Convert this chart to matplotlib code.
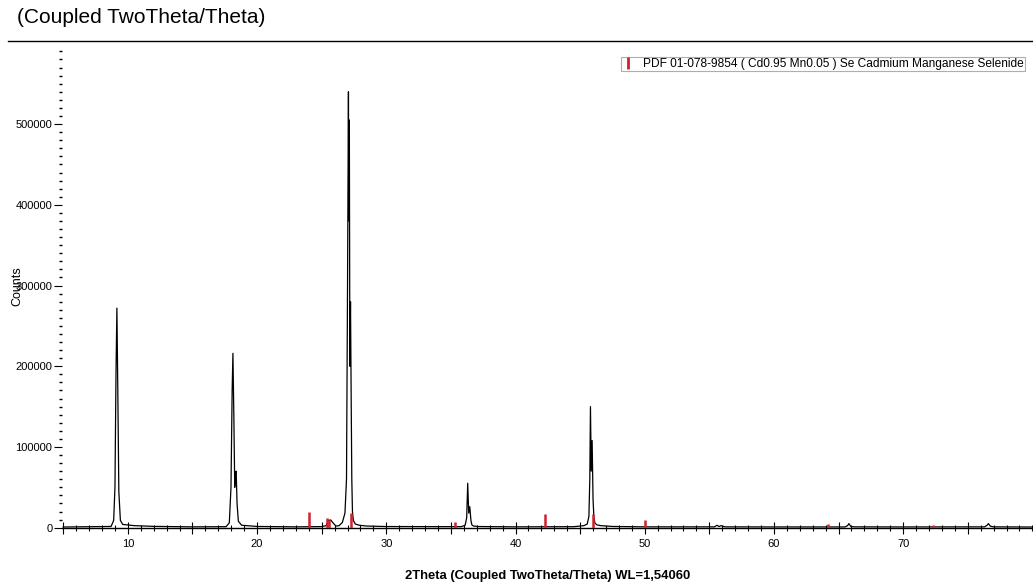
import matplotlib
matplotlib.use("Agg")
import matplotlib.pyplot as plt
from matplotlib.lines import Line2D
from matplotlib.ticker import MultipleLocator, FixedLocator

plt.rcParams['font.family'] = ['Liberation Sans', 'DejaVu Sans']

# measured pattern (2theta in degrees, counts)
two_theta = [5.0, 8.7, 8.9, 9.0, 9.08, 9.15, 9.22, 9.3, 9.42, 9.6, 10.5, 12.0, 15.0,
             17.6, 17.85, 17.98, 18.07, 18.13, 18.2, 18.27, 18.33, 18.38, 18.45, 18.55, 18.8, 20.0, 23.0, 25.0,
             25.35, 25.5, 25.7, 25.9, 26.1, 26.35, 26.6, 26.8, 26.92, 27.0, 27.07, 27.1, 27.14, 27.18,
             27.23, 27.28, 27.33, 27.38, 27.45, 27.6, 27.9, 28.5, 30.0,
             35.8, 36.1, 36.22, 36.3, 36.38, 36.46, 36.55, 36.62, 36.75, 37.2, 40.0,
             44.5, 45.3, 45.55, 45.68, 45.75, 45.8, 45.86, 45.93, 46.0, 46.07, 46.15, 46.3, 46.6, 47.5, 50.0,
             55.4, 55.6, 55.75, 55.9, 56.2, 60.0,
             65.5, 65.7, 65.8, 65.95, 66.2, 70.0,
             76.3, 76.5, 76.6, 76.75, 77.0, 80.0]
counts = [800, 1500, 9000, 50000, 190000, 272000, 170000, 45000, 9000, 4000, 2500, 1600, 1000,
          1200, 6000, 50000, 170000, 216000, 140000, 50000, 68000, 70000, 30000, 8000, 3000, 1500, 1000, 1300,
          2500, 9000, 9500, 5500, 2000, 2500, 6500, 18000, 60000, 300000, 540000, 380000, 505000, 200000,
          280000, 165000, 60000, 20000, 9000, 4500, 3000, 2000, 1400,
          1200, 3000, 12000, 55000, 18000, 26000, 9000, 3500, 2000, 1400, 1000,
          1200, 2500, 4500, 14000, 60000, 150000, 70000, 108000, 35000, 12000, 5500, 3500, 2500, 1500, 1000,
          1000, 3000, 1400, 2500, 1000, 900,
          900, 2500, 5000, 1500, 1000, 900,
          1000, 3000, 5000, 1800, 1000, 800]

# PDF 01-078-9854 reference lines
ref_pos = [24.0, 25.4, 25.6, 27.3, 35.3, 42.3, 46.0, 50.0, 64.2, 72.3]
ref_int = [20000, 12000, 9000, 18000, 7000, 17000, 17000, 10000, 5000, 3000]

y_ticks = [0, 100000, 200000, 300000, 400000, 500000]
x_ticks = list(range(5, 80, 5))

ref_label = "PDF 01-078-9854 ( Cd0.95 Mn0.05 ) Se Cadmium Manganese Selenide"
red = '#d3202e'

fig = plt.figure(figsize=(10.33, 5.86), dpi=100)
ax = fig.add_axes([0.060, 0.099, 0.940, 0.816])

ax.plot(two_theta, counts, color='black', lw=0.9)
ax.vlines(ref_pos, 0, ref_int, color=red, lw=1.8, zorder=3)

ax.set_xlim(4.9, 80.05)
ax.set_ylim(-400, 592000)

for s in ['top', 'right', 'left']:
    ax.spines[s].set_visible(False)
ax.spines['bottom'].set_linewidth(1.0)

ax.set_yticks(y_ticks)
ax.set_yticklabels([str(v) for v in y_ticks])
ax.yaxis.set_minor_locator(MultipleLocator(10000))
ax.tick_params(axis='y', which='major', length=6, width=0.8, pad=1, labelsize=8)
ax.tick_params(axis='y', which='minor', length=2.5, width=1.0)

ax.xaxis.set_major_locator(FixedLocator(x_ticks))
ax.set_xticklabels(['' if t % 10 else str(t) for t in x_ticks])
ax.xaxis.set_minor_locator(MultipleLocator(1))
ax.tick_params(axis='x', which='major', direction='inout', length=8, width=0.8, pad=4, labelsize=8)
ax.tick_params(axis='x', which='minor', direction='inout', length=4, width=0.8)

ax.set_xlabel("2Theta (Coupled TwoTheta/Theta) WL=1,54060", fontsize=9.4, fontweight='bold', labelpad=15)
fig.text(0.017, 0.512, "Counts", rotation=90, va='center', ha='center', fontsize=9)

fig.text(0.016, 0.970, "(Coupled TwoTheta/Theta)", fontsize=15, va='center', ha='left')
fig.add_artist(Line2D([0.008, 1.0], [0.930, 0.930], color='black', lw=1.0))

handle = Line2D([], [], color=red, marker='|', linestyle='None', markersize=8, markeredgewidth=2)
leg = ax.legend([handle], [ref_label], loc='upper right', bbox_to_anchor=(0.992, 0.903),
                bbox_transform=fig.transFigure, fontsize=8.6, frameon=True, fancybox=False,
                handlelength=1.0, handletextpad=0.7, borderpad=0.1, borderaxespad=0)
leg.get_frame().set_edgecolor('#9a9a9a')
leg.get_frame().set_linewidth(0.8)

fig.savefig("out.png", dpi=100)
